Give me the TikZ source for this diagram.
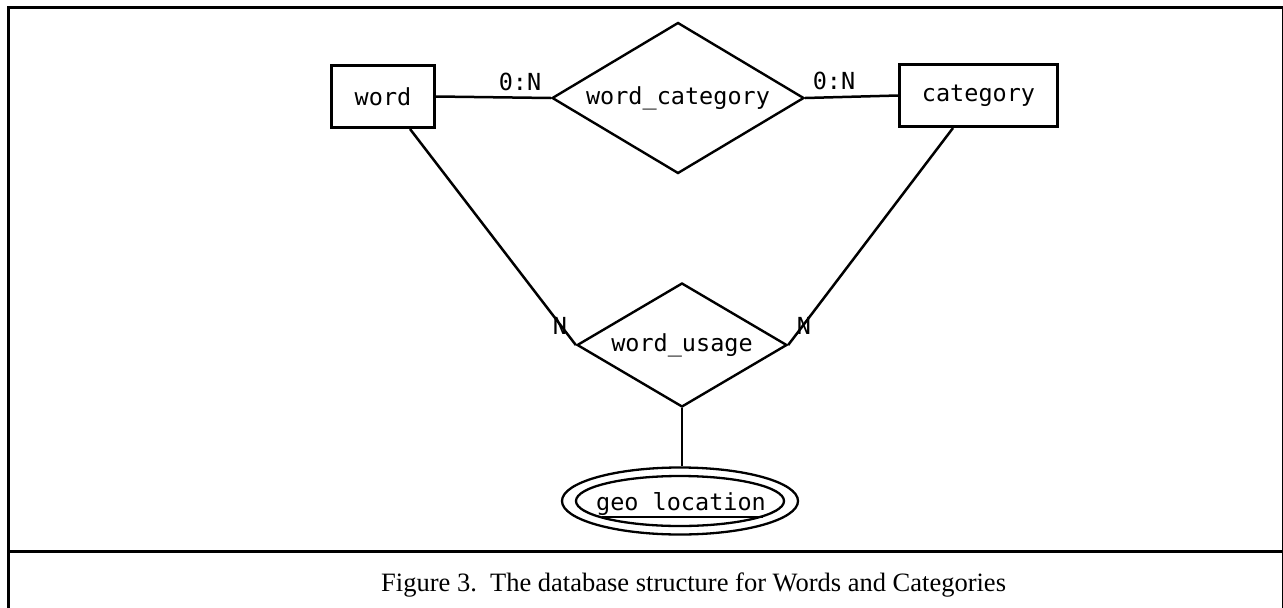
\documentclass[tikz,border=0pt]{standalone}
\usepackage{fontspec}
\setmainfont{Liberation Serif}
\setmonofont{DejaVu Sans Mono}
\usetikzlibrary{shapes.geometric}
\begin{document}
\begin{tikzpicture}[x=1pt,y=-1pt,
  lbl/.style={font=\ttfamily\fontsize{23.5}{26}\selectfont, inner sep=0pt},
  entity/.style={draw, line width=3pt, rectangle, inner sep=0pt, font=\ttfamily\fontsize{23.5}{26}\selectfont},
  relation/.style={draw, line width=2.4pt, diamond, inner sep=0pt, font=\ttfamily\fontsize{23.5}{26}\selectfont},
  conn/.style={line width=2.5pt},
  attr/.style={draw, line width=2.3pt, ellipse, inner sep=0pt}]
\useasboundingbox (0,0) rectangle (1283,608);
% frame
\draw[line width=3pt] (8,608) -- (8,7.5) -- (1283,7.5);
\draw[line width=3pt] (8,551) -- (1283,551);
\draw[line width=1.2pt] (1282.4,7.5) -- (1282.4,608);
% nodes
\node[entity, minimum width=103pt, minimum height=62pt] (word) at (383,96.5) {word};
\node[entity, minimum width=158pt, minimum height=62pt] (cat) at (978.5,95.5) {category};
\node[relation, aspect=1.68, minimum width=252pt, minimum height=151pt] (wc) at (678,98) {word\_category};
\node[relation, aspect=1.69, minimum width=210pt, minimum height=124pt] (wu) at (682,345) {word\_usage};
\node[attr, minimum width=236pt, minimum height=67pt] (geo) at (680,501) {};
\draw[line width=2.3pt] (geo.center) ellipse [x radius=104pt, y radius=25pt];
\node[lbl] (geotext) at (681,504) {geo location};
\draw[line width=2.3pt] ([shift={(-78pt,-16pt)}]geo.center) -- ([shift={(83pt,-16pt)}]geo.center);
% connectors
\draw[conn] (word.east) -- (wc.west);
\draw[conn] (wc.east) -- (cat.west);
\draw[conn] ([xshift=27pt]word.south) -- (wu.west);
\draw[conn] ([xshift=-25.5pt]cat.south) -- (wu.east);
\draw[conn] (wu.south) -- (wu.south |- geo.north);
% cardinality labels
\node[lbl] (c1) at (520,82) {0:N};
\node[lbl] (c2) at (834,81) {0:N};
\node[lbl] (c3) at (560,326) {N};
\node[lbl] (c4) at (804,326) {N};
% caption
\node[anchor=base west, inner sep=0pt, font=\fontsize{26.5}{30}\selectfont] (cap) at (381,591) {Figure 3.\ \ The database structure for Words and Categories};
\end{tikzpicture}
\end{document}
